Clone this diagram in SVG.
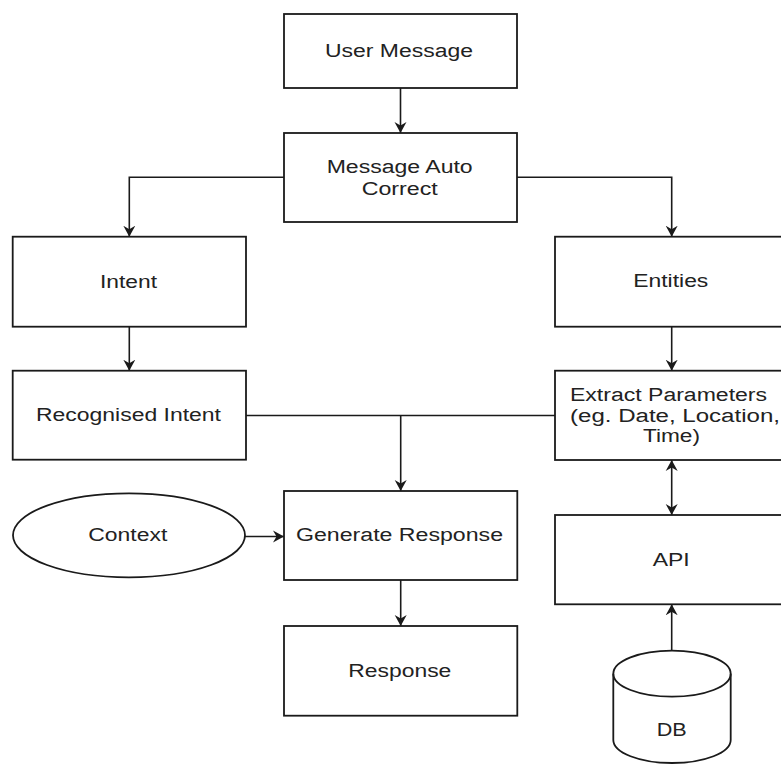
<svg xmlns="http://www.w3.org/2000/svg" width="781" height="765" viewBox="0 0 781 765">
<style>
.box{fill:#fff;stroke:#1a1a1a;stroke-width:1.8}
.ln{fill:none;stroke:#1a1a1a;stroke-width:1.6}
.t{font-family:"Liberation Sans",Arial,sans-serif;font-size:18px;fill:#222}
</style>
<defs>
<marker id="ah" markerUnits="userSpaceOnUse" markerWidth="13" markerHeight="13" refX="11" refY="6" orient="auto-start-reverse" viewBox="0 0 13 12">
<path d="M0,0 L11,6 L0,12 L3.5,6 z" fill="#1a1a1a"/>
</marker>
</defs>
<rect width="781" height="765" fill="#fff"/>
<g id="connectors">
<path class="ln" d="M400.5,88 L400.5,133" marker-end="url(#ah)"/>
<path class="ln" d="M284,177.3 L129.3,177.3 L129.3,236.7" marker-end="url(#ah)"/>
<path class="ln" d="M517,177.3 L671.7,177.3 L671.7,236.7" marker-end="url(#ah)"/>
<path class="ln" d="M129.3,326.7 L129.3,370.7" marker-end="url(#ah)"/>
<path class="ln" d="M671.7,326.7 L671.7,370.7" marker-end="url(#ah)"/>
<path class="ln" d="M246,415.5 L555,415.5"/>
<path class="ln" d="M400.7,415.5 L400.7,491" marker-end="url(#ah)"/>
<path class="ln" d="M245,536.5 L284,536.5" marker-end="url(#ah)"/>
<path class="ln" d="M400.7,580 L400.7,626" marker-end="url(#ah)"/>
<path class="ln" d="M671.7,460 L671.7,515" marker-start="url(#ah)" marker-end="url(#ah)"/>
<path class="ln" d="M671.7,650.7 L671.7,604.3" marker-end="url(#ah)"/>
</g>
<g id="user-message"><rect class="box" x="284" y="14" width="233" height="74"/><text class="t" x="325" y="56.5" textLength="148" lengthAdjust="spacingAndGlyphs">User Message</text></g>
<g id="message-auto-correct"><rect class="box" x="284" y="133" width="233" height="89"/><text class="t" x="326.7" y="173" textLength="146" lengthAdjust="spacingAndGlyphs">Message Auto</text><text class="t" x="361.7" y="194.5" textLength="76" lengthAdjust="spacingAndGlyphs">Correct</text></g>
<g id="intent"><rect class="box" x="12.7" y="236.7" width="233.3" height="90"/><text class="t" x="100" y="287.5" textLength="57" lengthAdjust="spacingAndGlyphs">Intent</text></g>
<g id="entities"><rect class="box" x="555" y="236.7" width="233" height="90"/><text class="t" x="633.3" y="287" textLength="75" lengthAdjust="spacingAndGlyphs">Entities</text></g>
<g id="recognised-intent"><rect class="box" x="12.7" y="370.7" width="233.3" height="89"/><text class="t" x="36" y="420.5" textLength="185" lengthAdjust="spacingAndGlyphs">Recognised Intent</text></g>
<g id="extract-parameters"><rect class="box" x="555" y="370.7" width="233" height="89.3"/><text class="t" x="570" y="401" textLength="197" lengthAdjust="spacingAndGlyphs">Extract Parameters</text><text class="t" x="570" y="422" textLength="210" lengthAdjust="spacingAndGlyphs">(eg. Date, Location,</text><text class="t" x="643" y="442" textLength="57" lengthAdjust="spacingAndGlyphs">Time)</text></g>
<g id="context"><ellipse class="box" cx="129" cy="535.3" rx="116" ry="42"/><text class="t" x="88.3" y="541" textLength="79" lengthAdjust="spacingAndGlyphs">Context</text></g>
<g id="generate-response"><rect class="box" x="284" y="491" width="233.3" height="89"/><text class="t" x="296" y="541" textLength="207" lengthAdjust="spacingAndGlyphs">Generate Response</text></g>
<g id="api"><rect class="box" x="555" y="515" width="233" height="89.3"/><text class="t" x="652.7" y="565.5" textLength="37" lengthAdjust="spacingAndGlyphs">API</text></g>
<g id="response"><rect class="box" x="284" y="626" width="233.3" height="89.7"/><text class="t" x="348.3" y="676.5" textLength="103" lengthAdjust="spacingAndGlyphs">Response</text></g>
<g id="db"><path class="box" d="M613.3,673.7 A58.7,23 0 0 1 730.7,673.7 L730.7,740 A58.7,23 0 0 1 613.3,740 Z"/><path class="ln" d="M613.3,673.7 A58.7,23 0 0 0 730.7,673.7" style="stroke-width:1.8"/><text class="t" x="656.7" y="735.5" textLength="30" lengthAdjust="spacingAndGlyphs">DB</text></g>
</svg>
